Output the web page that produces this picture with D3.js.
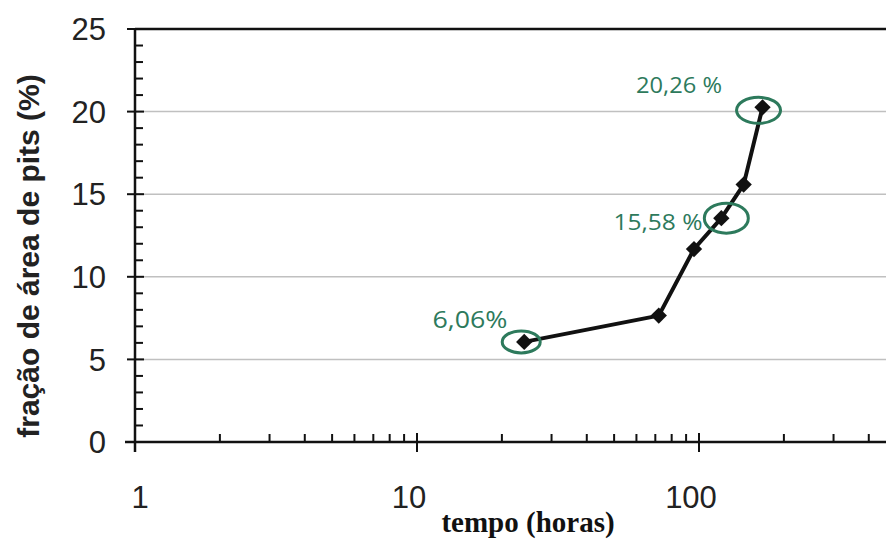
<!DOCTYPE html>
<html>
<head>
<meta charset="utf-8">
<script src="https://cdn.jsdelivr.net/npm/d3@7"></script>
<style>
  html, body { margin: 0; padding: 0; background: #fff; }
  svg { display: block; }
</style>
</head>
<body>
<svg id="chart" width="886" height="541"></svg>
<script>
// Pit area fraction vs. exposure time (log time axis)
const hours = [24, 72, 96, 120, 144, 168];
const pitFraction = [6.06, 7.65, 11.68, 13.55, 15.58, 20.26];

const yTicks = [0, 5, 10, 15, 20, 25];
const xTicks = [1, 10, 100];
const xTickLabels = ["1", "10", "100"];

// Highlighted points: index into the series, label text
const noteIndex = [0, 3, 5];
const noteText = ["6,06%", "15,58 %", "20,26 %"];

const svg = d3.select("#chart");
const W = 886, H = 541;

const plotLeft = 135, plotBottom = 442, plotTop = 29;
const decade = 282;

const x = d3.scaleLog().domain([1, 1000]).range([plotLeft, plotLeft + 3 * decade]);
const y = d3.scaleLinear().domain([0, 25]).range([plotBottom, plotTop]);

const ink = "#111";
const green = "#2d7a5c";

// Horizontal gridlines
svg.append("g")
  .selectAll("line")
  .data(yTicks.filter(v => v > 0 && v < 25))
  .join("line")
  .attr("x1", plotLeft).attr("x2", W)
  .attr("y1", d => y(d)).attr("y2", d => y(d))
  .attr("stroke", "#c0c0c0").attr("stroke-width", 1.5);

// Top frame line
svg.append("line")
  .attr("x1", plotLeft).attr("x2", W)
  .attr("y1", y(25)).attr("y2", y(25))
  .attr("stroke", ink).attr("stroke-width", 2.5);

// Y axis: major ticks cross the axis, minor ticks point inward
const yAxisG = svg.append("g").attr("transform", `translate(${plotLeft},0)`);
const yMinor = d3.range(0, 26).filter(v => v % 5 !== 0);
yAxisG.selectAll(".minor")
  .data(yMinor).join("line")
  .attr("x1", 0).attr("x2", 8)
  .attr("y1", d => y(d)).attr("y2", d => y(d))
  .attr("stroke", ink).attr("stroke-width", 2);
yAxisG.selectAll(".major")
  .data(yTicks).join("line")
  .attr("x1", -8).attr("x2", 9)
  .attr("y1", d => y(d)).attr("y2", d => y(d))
  .attr("stroke", ink).attr("stroke-width", 2);
yAxisG.append("line")
  .attr("x1", 0).attr("x2", 0)
  .attr("y1", y(25)).attr("y2", plotBottom + 10)
  .attr("stroke", ink).attr("stroke-width", 2.5);
yAxisG.selectAll(".lbl")
  .data(yTicks).join("text")
  .attr("x", -29).attr("y", d => y(d))
  .attr("dy", "0.36em")
  .attr("text-anchor", "end")
  .attr("font-family", "Liberation Sans, Arial, sans-serif")
  .attr("font-size", 31)
  .attr("fill", "#222")
  .text(d => d);

// X axis: log scale, major ticks cross, minor ticks point inward
const xAxisG = svg.append("g").attr("transform", `translate(0,${plotBottom})`);
const xMinor = [];
[1, 10, 100].forEach(b => { for (let k = 2; k <= 9; k++) xMinor.push(b * k); });
xAxisG.selectAll(".minor")
  .data(xMinor).join("line")
  .attr("x1", d => x(d)).attr("x2", d => x(d))
  .attr("y1", 0).attr("y2", -8)
  .attr("stroke", ink).attr("stroke-width", 2);
xAxisG.selectAll(".major")
  .data(xTicks).join("line")
  .attr("x1", d => x(d)).attr("x2", d => x(d))
  .attr("y1", -9).attr("y2", 10)
  .attr("stroke", ink).attr("stroke-width", 2);
xAxisG.append("line")
  .attr("x1", plotLeft - 10).attr("x2", W)
  .attr("y1", 0).attr("y2", 0)
  .attr("stroke", ink).attr("stroke-width", 2.5);
xAxisG.selectAll(".lbl")
  .data(xTicks).join("text")
  .attr("x", (d, i) => x(d) + (i === 0 ? 5 : -8))
  .attr("y", 66)
  .attr("text-anchor", "middle")
  .attr("font-family", "Liberation Sans, Arial, sans-serif")
  .attr("font-size", 31)
  .attr("fill", "#222")
  .text((d, i) => xTickLabels[i]);

// Axis titles
svg.append("text")
  .attr("x", 528).attr("y", 532)
  .attr("text-anchor", "middle")
  .attr("font-family", "Liberation Serif, 'Times New Roman', serif")
  .attr("font-weight", "bold")
  .attr("font-size", 29)
  .attr("fill", "#111")
  .text("tempo (horas)");

svg.append("text")
  .attr("transform", "translate(39,256) rotate(-90)")
  .attr("text-anchor", "middle")
  .attr("font-family", "Liberation Sans, Arial, sans-serif")
  .attr("font-weight", "bold")
  .attr("font-size", 30)
  .attr("fill", "#222")
  .text("fração de área de pits (%)");

// Series line and diamond markers
const pts = hours.map((h, i) => [h, pitFraction[i]]);
svg.append("path")
  .datum(pts)
  .attr("fill", "none")
  .attr("stroke", ink)
  .attr("stroke-width", 4)
  .attr("stroke-linejoin", "round")
  .attr("d", d3.line().x(d => x(d[0])).y(d => y(d[1])));

svg.append("g")
  .selectAll("path")
  .data(pts).join("path")
  .attr("transform", d => `translate(${x(d[0])},${y(d[1])})`)
  .attr("d", d3.symbol().type(d3.symbolDiamond2).size(170))
  .attr("fill", ink);

// Highlight ellipses and value labels
const ellipseR = [[19, 11], [22, 15], [22, 13]];
const ellipseOff = [[-3, 0], [5, 0], [-4, 3]];
svg.append("g")
  .selectAll("ellipse")
  .data(noteIndex).join("ellipse")
  .attr("cx", (d, i) => x(hours[d]) + ellipseOff[i][0])
  .attr("cy", (d, i) => y(pitFraction[d]) + ellipseOff[i][1])
  .attr("rx", (d, i) => ellipseR[i][0])
  .attr("ry", (d, i) => ellipseR[i][1])
  .attr("fill", "none")
  .attr("stroke", green)
  .attr("stroke-width", 3);

const labelPos = [[470, 328], [658, 230], [679, 93]];
const labelWidth = [75, 89, 86];
svg.append("g")
  .selectAll("text")
  .data(noteText).join("text")
  .attr("x", (d, i) => labelPos[i][0] - labelWidth[i] / 2)
  .attr("y", (d, i) => labelPos[i][1])
  .attr("font-family", "'Open Sans', 'Noto Sans', sans-serif")
  .attr("font-size", (d, i) => i === 0 ? 23 : 21)
  .attr("textLength", (d, i) => labelWidth[i])
  .attr("lengthAdjust", "spacingAndGlyphs")
  .attr("fill", green)
  .text(d => d);
</script>
</body>
</html>
